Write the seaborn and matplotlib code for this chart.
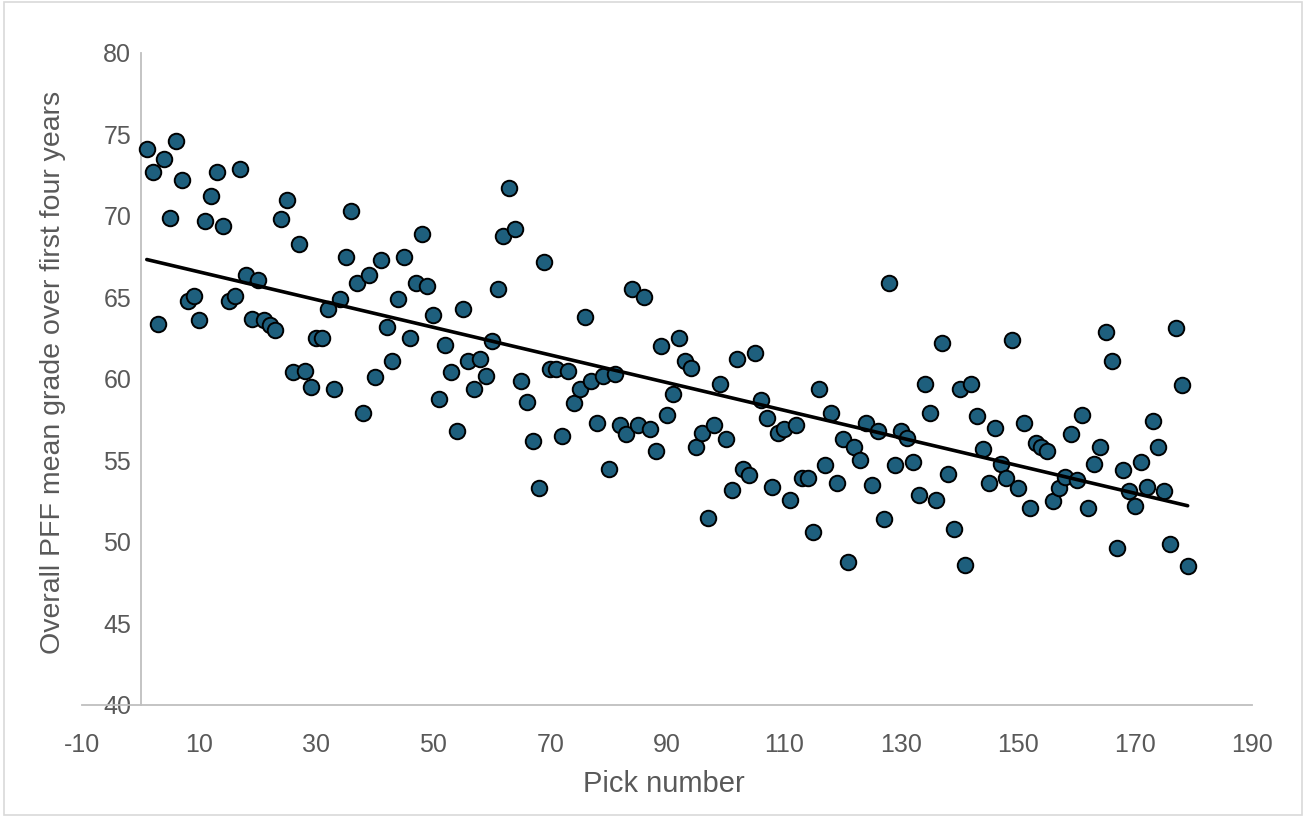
import matplotlib; matplotlib.use('Agg')
import numpy as np
import pandas as pd
import seaborn as sns
import matplotlib.pyplot as plt
from matplotlib.patches import Rectangle

# Pick numbers 1..179 and grades
picks = list(range(1, 180))
grades = [
    74.1, 72.7, 63.4, 73.5, 69.9, 74.6, 72.2, 64.8, 65.1, 63.6,
    69.7, 71.2, 72.7, 69.4, 64.8, 65.1, 72.9, 66.4, 63.7, 66.1,
    63.6, 63.3, 63.0, 69.8, 71.0, 60.4, 68.3, 60.5, 59.5, 62.5,
    62.5, 64.3, 59.4, 64.9, 67.5, 70.3, 65.9, 57.9, 66.4, 60.1,
    67.3, 63.2, 61.1, 64.9, 67.5, 62.5, 65.9, 68.9, 65.7, 63.9,
    58.8, 62.1, 60.4, 56.8, 64.3, 61.1, 59.4, 61.2, 60.2, 62.3,
    65.5, 68.8, 71.7, 69.2, 59.9, 58.6, 56.2, 53.3, 67.2, 60.6,
    60.6, 56.5, 60.5, 58.5, 59.4, 63.8, 59.9, 57.3, 60.2, 54.5,
    60.3, 57.2, 56.6, 65.5, 57.2, 65.0, 56.9, 55.6, 62.0, 57.8,
    59.1, 62.5, 61.1, 60.7, 55.8, 56.7, 51.5, 57.2, 59.7, 56.3,
    53.2, 61.2, 54.5, 54.1, 61.6, 58.7, 57.6, 53.4, 56.7, 56.9,
    52.6, 57.2, 53.9, 53.9, 50.6, 59.4, 54.7, 57.9, 53.6, 56.3,
    48.8, 55.8, 55.0, 57.3, 53.5, 56.8, 51.4, 65.9, 54.7, 56.8,
    56.4, 54.9, 52.9, 59.7, 57.9, 52.6, 62.2, 54.2, 50.8, 59.4,
    48.6, 59.7, 57.7, 55.7, 53.6, 57.0, 54.8, 53.9, 62.4, 53.3,
    57.3, 52.1, 56.1, 55.8, 55.6, 52.5, 53.3, 54.0, 56.6, 53.8,
    57.8, 52.1, 54.8, 55.8, 62.9, 61.1, 49.6, 54.4, 53.1, 52.2,
    54.9, 53.4, 57.4, 55.8, 53.1, 49.9, 63.1, 59.6, 48.5,
]

x_ticks = list(range(-10, 191, 20))
y_ticks = list(range(40, 81, 5))

df = pd.DataFrame({'pick': picks, 'grade': grades})

sns.set_theme(style='white')
plt.rcParams['font.family'] = ['Liberation Sans Narrow', 'Liberation Sans', 'DejaVu Sans']
plt.rcParams['axes.unicode_minus'] = False

fig = plt.figure(figsize=(13.07, 8.25), dpi=100)
ax = fig.add_axes([0.0631, 0.1455, 0.8948, 0.7903])

sns.scatterplot(data=df, x='pick', y='grade', ax=ax, s=125,
                color='#1E5F7D', edgecolor='black', linewidth=1.4, zorder=3)
sns.regplot(data=df, x='pick', y='grade', ax=ax, scatter=False, ci=None,
            truncate=True, line_kws={'color': 'black', 'linewidth': 2.6, 'zorder': 4})

ax.set_xlim(-10, 190)
ax.set_ylim(40, 80)
ax.set_xticks(x_ticks)
ax.set_yticks(y_ticks)

for side in ['top', 'right']:
    ax.spines[side].set_visible(False)
ax.spines['left'].set_position(('data', 0))
ax.spines['left'].set_color('#BFBFBF')
ax.spines['left'].set_linewidth(1.3)
ax.spines['bottom'].set_color('#BFBFBF')
ax.spines['bottom'].set_linewidth(1.3)

ax.tick_params(axis='both', length=0, labelsize=18, labelcolor='#595959')
ax.tick_params(axis='x', pad=20)
ax.tick_params(axis='y', pad=7)

ax.set_xlabel('Pick number', fontsize=21, color='#595959')
ax.set_ylabel('Overall PFF mean grade over first four years', fontsize=20.5, color='#595959')
ax.xaxis.set_label_coords(0.497, -0.10)
ax.xaxis.label.set_va('top')
ax.yaxis.set_label_coords(-0.014, 0.51)

# light chart-area border
fig.patches.append(Rectangle((0.003, 0.012), 0.993, 0.985, transform=fig.transFigure,
                             fill=False, edgecolor='#D9D9D9', linewidth=1.2))

fig.savefig('out.png', dpi=100, facecolor='white')
